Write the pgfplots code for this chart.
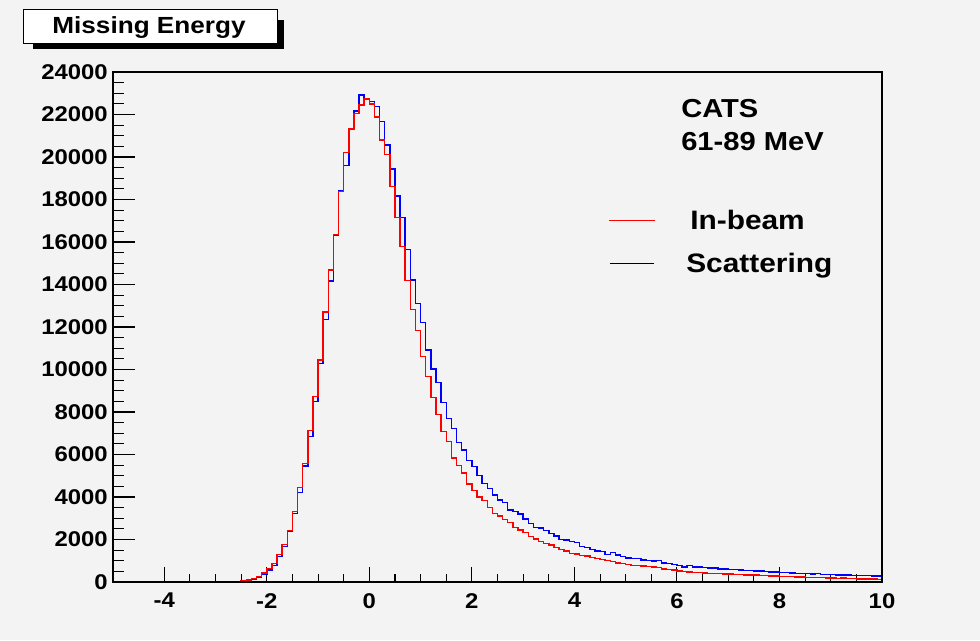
\documentclass[border=0pt]{standalone}
\usepackage{pgfplots}
\pgfplotsset{compat=1.18}
\usepackage{pgfplotstable}
\usepackage{fontspec}
\setmainfont{Liberation Sans}[FakeStretch=1.12]
\definecolor{bgc}{RGB}{243,243,243}

% In-beam (red), bin left edges, width 0.1
\pgfplotstableread{
x y
-5.0 0
-2.8 5
-2.7 15
-2.6 30
-2.5 55
-2.4 90
-2.3 160
-2.2 270
-2.1 430
-2.0 630
-1.9 880
-1.8 1300
-1.7 1760
-1.6 2420
-1.5 3310
-1.4 4440
-1.3 5580
-1.2 7120
-1.1 8720
-1.0 10450
-0.9 12700
-0.8 14680
-0.7 16360
-0.6 18370
-0.5 20200
-0.4 21320
-0.3 22050
-0.2 22450
-0.1 22730
0.0 22500
0.1 21890
0.2 20800
0.3 20110
0.4 18600
0.5 17150
0.6 15780
0.7 14180
0.8 12830
0.9 11830
1.0 10600
1.1 9680
1.2 8670
1.3 7870
1.4 7090
1.5 6620
1.6 5840
1.7 5490
1.8 5140
1.9 4610
2.0 4300
2.1 4000
2.2 3830
2.3 3500
2.4 3230
2.5 3110
2.6 2950
2.7 2790
2.8 2570
2.9 2450
3.0 2320
3.1 2130
3.2 2020
3.3 1900
3.4 1800
3.5 1740
3.6 1620
3.7 1540
3.8 1460
3.9 1350
4.0 1320
4.1 1240
4.2 1220
4.3 1160
4.4 1110
4.5 1070
4.6 1000
4.7 970
4.8 890
4.9 860
5.0 820
5.1 780
5.2 770
5.3 750
5.4 720
5.5 710
5.6 680
5.7 610
5.8 580
5.9 560
6.0 520
6.1 490
6.2 460
6.3 440
6.4 440
6.5 420
6.6 410
6.7 400
6.8 390
6.9 380
7.0 370
7.1 360
7.2 350
7.3 340
7.4 330
7.5 320
7.6 310
7.7 300
7.8 290
7.9 280
8.0 270
8.1 260
8.2 250
8.3 240
8.4 230
8.5 220
8.6 210
8.7 220
8.8 200
8.9 190
9.0 180
9.1 170
9.2 180
9.3 160
9.4 160
9.5 150
9.6 150
9.7 140
9.8 140
9.9 130
10.0 130
}\reddata

% Scattering (blue)
\pgfplotstableread{
x y
-5.0 0
-2.8 3
-2.7 10
-2.6 25
-2.5 45
-2.4 75
-2.3 130
-2.2 220
-2.1 376
-2.0 565
-1.9 770
-1.8 1190
-1.7 1660
-1.6 2370
-1.5 3230
-1.4 4200
-1.3 5470
-1.2 6840
-1.1 8490
-1.0 10290
-0.9 12360
-0.8 14160
-0.7 16330
-0.6 18400
-0.5 19590
-0.4 21320
-0.3 22160
-0.2 22920
-0.1 22730
0.0 22600
0.1 22380
0.2 21680
0.3 20560
0.4 19440
0.5 18160
0.6 17150
0.7 15650
0.8 14210
0.9 13100
1.0 12200
1.1 10920
1.2 10020
1.3 9400
1.4 8440
1.5 7700
1.6 7220
1.7 6560
1.8 6210
1.9 5710
2.0 5430
2.1 5020
2.2 4640
2.3 4390
2.4 4090
2.5 3860
2.6 3730
2.7 3390
2.8 3310
2.9 3190
3.0 2970
3.1 2760
3.2 2570
3.3 2540
3.4 2420
3.5 2290
3.6 2160
3.7 2010
3.8 1980
3.9 1900
4.0 1850
4.1 1660
4.2 1630
4.3 1540
4.4 1470
4.5 1430
4.6 1300
4.7 1380
4.8 1270
4.9 1190
5.0 1140
5.1 1110
5.2 1100
5.3 1040
5.4 1000
5.5 990
5.6 1020
5.7 890
5.8 880
5.9 820
6.0 770
6.1 710
6.2 770
6.3 700
6.4 700
6.5 680
6.6 660
6.7 650
6.8 620
6.9 610
7.0 590
7.1 600
7.2 560
7.3 550
7.4 540
7.5 520
7.6 510
7.7 490
7.8 480
7.9 460
8.0 450
8.1 440
8.2 430
8.3 410
8.4 400
8.5 390
8.6 380
8.7 390
8.8 360
8.9 350
9.0 350
9.1 330
9.2 340
9.3 320
9.4 310
9.5 310
9.6 300
9.7 300
9.8 290
9.9 290
10.0 290
}\bluedata

\pgfplotsset{
  rootframe/.style={
    at={(84.75pt,43.5pt)}, anchor=south west,
    scale only axis, width=576.75pt, height=382.5pt,
    xmin=-5, xmax=10, ymin=0, ymax=24000,
    tick align=inside, tick pos=left,
    scaled x ticks=false, scaled y ticks=false,
    axis line style={line width=1.1pt},
    tick style={black, line width=0.8pt},
  }
}

\begin{document}
\begin{tikzpicture}
\fill[bgc] (0,0) rectangle (735pt,480pt);

\begin{axis}[rootframe,
  axis background/.style={fill=bgc},
  xtick={-4,-2,0,2,4,6,8,10},
  xticklabels={-4,-2,0,2,4,6,8,10},
  minor x tick num=3,
  ytick=\empty,
  major tick length=11.25pt, minor tick length=6pt,
  xticklabel style={font=\fontsize{16pt}{16pt}\selectfont\bfseries,
    inner sep=0pt, anchor=north, yshift=-8.25pt},
]
\addplot[blue, line width=1.1pt, const plot] table[x=x,y=y] {\bluedata};
\addplot[red, line width=1.1pt, const plot] table[x=x,y=y] {\reddata};
\end{axis}

\begin{axis}[rootframe,
  xtick=\empty,
  ytick={0,2000,4000,6000,8000,10000,12000,14000,16000,18000,20000,22000,24000},
  yticklabels={0,2000,4000,6000,8000,10000,12000,14000,16000,18000,20000,22000,24000},
  minor y tick num=3,
  major tick length=16.5pt, minor tick length=8.25pt,
  yticklabel style={font=\fontsize{16pt}{16pt}\selectfont\bfseries,
    inner sep=0pt, anchor=east, xshift=-3.75pt},
]
\end{axis}

\begin{scope}[x=0.75pt, y=-0.75pt, yshift=480pt]
  \fill[black] (33,20) rectangle (284,49);
  \filldraw[fill=white, draw=black, line width=0.75pt] (23,10) rectangle (277.5,43.3);
  \node[inner sep=0pt, anchor=base, font=\fontsize{17.5pt}{17.5pt}\selectfont\bfseries] at (149,33.5) {Missing Energy};
  \node[inner sep=0pt, anchor=base west, font=\fontsize{19.5pt}{19.5pt}\selectfont\bfseries] at (681,117.5) {CATS};
  \node[inner sep=0pt, anchor=base west, font=\fontsize{19.5pt}{19.5pt}\selectfont\bfseries] at (681,151) {61-89 MeV};
  \draw[red, line width=0.75pt] (609,220) -- (655,220);
  \draw[black, line width=0.75pt] (610,263) -- (654,263);
  \node[inner sep=0pt, anchor=base west, font=\fontsize{20pt}{20pt}\selectfont\bfseries] at (690,229.5) {In-beam};
  \node[inner sep=0pt, anchor=base west, font=\fontsize{20pt}{20pt}\selectfont\bfseries] at (686,272) {Scattering};
\end{scope}
\end{tikzpicture}
\end{document}
